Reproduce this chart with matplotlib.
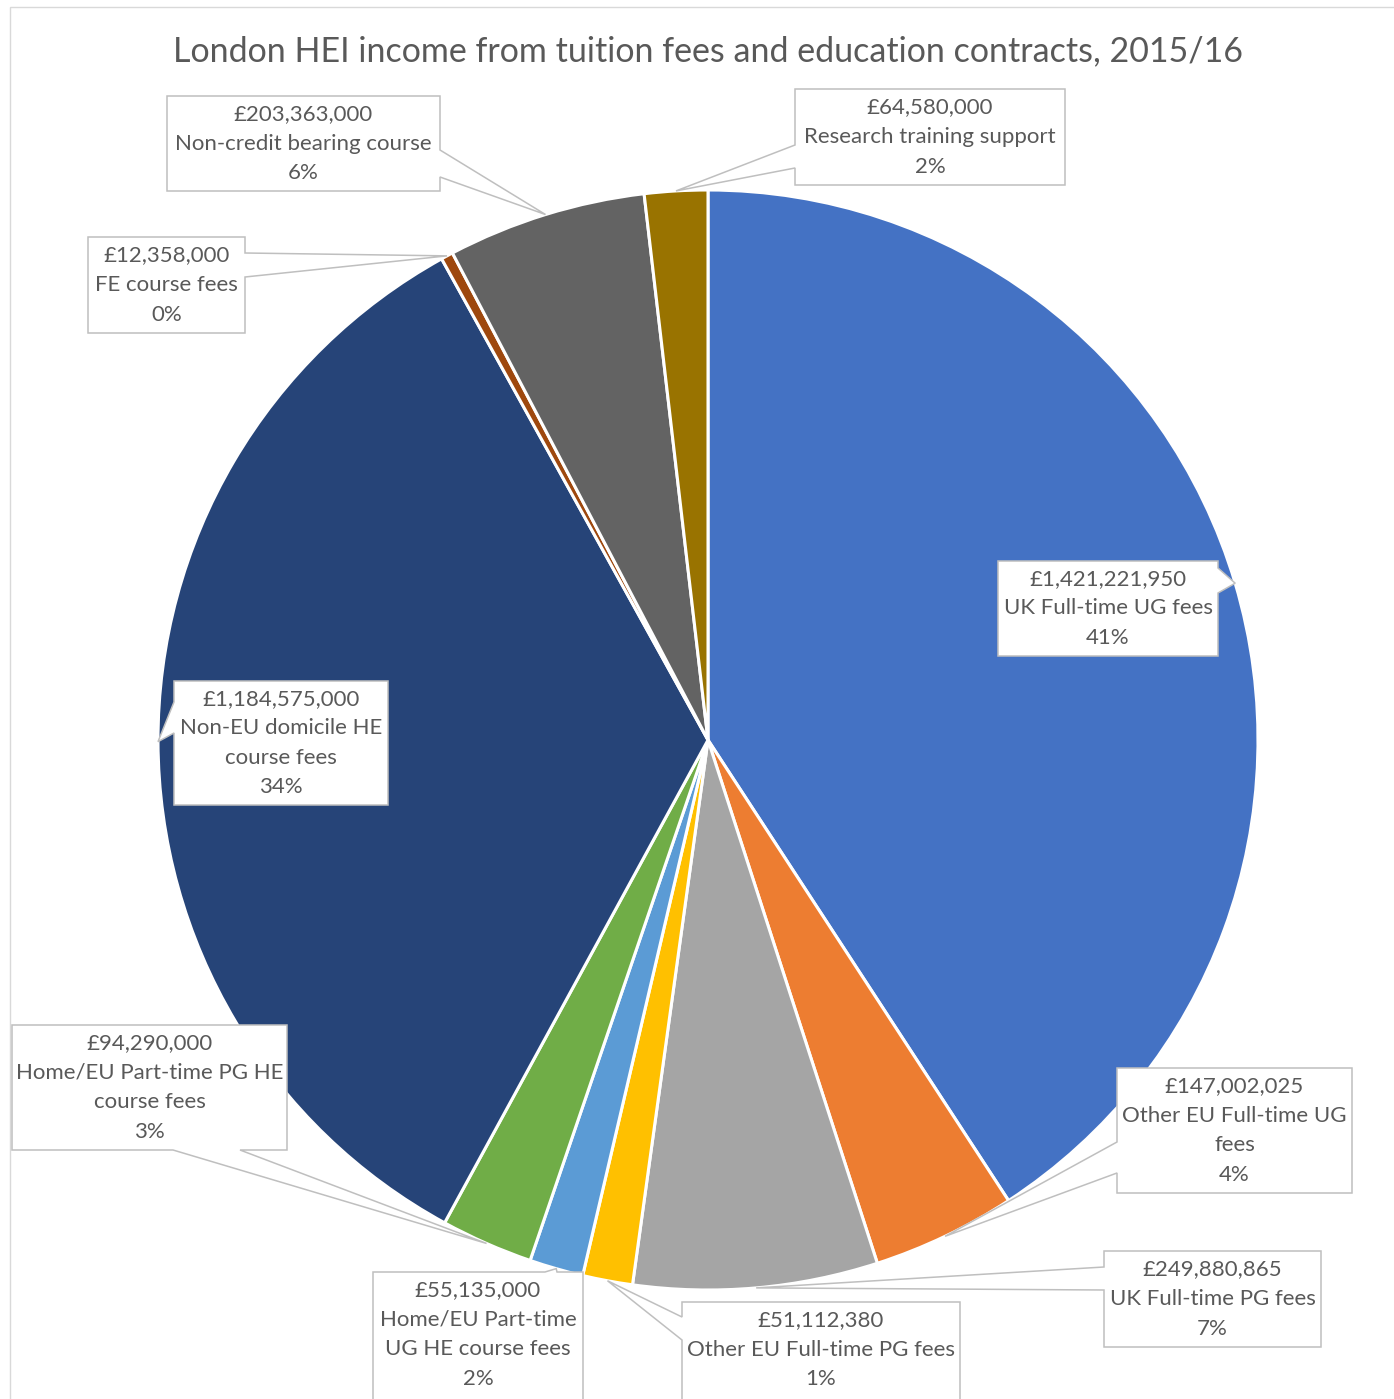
import numpy as np
import matplotlib
matplotlib.use("Agg")
import matplotlib.pyplot as plt
from matplotlib.patches import Polygon, Rectangle

plt.rcParams['font.family'] = ['Lato', 'DejaVu Sans']

W, H = 1394, 1399

title = "London HEI income from tuition fees and education contracts, 2015/16"

names = [
    "UK Full-time UG fees",
    "Other EU Full-time UG\nfees",
    "UK Full-time PG fees",
    "Other EU Full-time PG fees",
    "Home/EU Part-time\nUG HE course fees",
    "Home/EU Part-time PG HE\ncourse fees",
    "Non-EU domicile HE\ncourse fees",
    "FE course fees",
    "Non-credit bearing course",
    "Research training support",
]
values = [1421221950, 147002025, 249880865, 51112380, 55135000,
          94290000, 1184575000, 12358000, 203363000, 64580000]
colors = ["#4472C4", "#ED7D31", "#A5A5A5", "#FFC000", "#5B9BD5",
          "#70AD47", "#264478", "#9E480E", "#636363", "#997300"]

# callout boxes in pixel coords (x0, y0, x1, y1, top-down), pointer side and base
boxes = [
    (998, 561, 1218, 656, "right", 568, 593),
    (1117, 1068, 1352, 1193, "left", 1142, 1173),
    (1104, 1251, 1321, 1347, "left", 1267, 1290),
    (682, 1302, 960, 1410, "left", 1317, 1340),
    (373, 1272, 583, 1410, "top", 545, 557),
    (12, 1025, 287, 1150, "bottom", 173, 240),
    (174, 681, 388, 805, "left", 702, 733),
    (88, 237, 245, 333, "right", 253, 277),
    (167, 96, 440, 191, "right", 150, 177),
    (795, 89, 1065, 185, "left", 145, 168),
]
text_offset = [0, 0, 0, -1, -1, 0, 0, 0, 0, 0]

cx, cy, R = 708, 740, 550

fig = plt.figure(figsize=(W / 100, H / 100), dpi=100)
ax = fig.add_axes([0, 0, 1, 1])

ax.add_patch(Rectangle((10, -10), W + 20, H - 7 + 10, fill=False,
                       edgecolor="#D9D9D9", linewidth=1.0, zorder=0))

wedges, _ = ax.pie(values, colors=colors, startangle=90, counterclock=False,
                   center=(cx, H - cy), radius=R, frame=True,
                   wedgeprops=dict(edgecolor="white", linewidth=2.2))
ax.set_xlim(0, W)
ax.set_ylim(0, H)
ax.set_aspect("equal")
ax.axis("off")

total = sum(values)
for i, w in enumerate(wedges):
    mid = np.deg2rad((w.theta1 + w.theta2) / 2)
    tx = cx + R * np.cos(mid)
    ty = cy - R * np.sin(mid)
    x0, y0, x1, y1, side, b0, b1 = boxes[i]
    if side == "right":
        pts = [(x0, y0), (x1, y0), (x1, b0), (tx, ty), (x1, b1), (x1, y1), (x0, y1)]
    elif side == "left":
        pts = [(x0, y0), (x1, y0), (x1, y1), (x0, y1), (x0, b1), (tx, ty), (x0, b0)]
    elif side == "top":
        pts = [(x0, y0), (b0, y0), (tx, ty), (b1, y0), (x1, y0), (x1, y1), (x0, y1)]
    else:
        pts = [(x0, y0), (x1, y0), (x1, y1), (b1, y1), (tx, ty), (b0, y1), (x0, y1)]
    pts = [(px, H - py) for px, py in pts]
    ax.add_patch(Polygon(pts, closed=True, facecolor="white", edgecolor="#BFBFBF",
                         linewidth=1.1, zorder=5))
    pct = round(values[i] / total * 100)
    label = "£{:,}\n{}\n{}%".format(values[i], names[i], pct)
    ymid = (y0 + min(y1, H)) / 2 + text_offset[i]
    ax.text((x0 + x1) / 2, H - ymid, label, ha="center", va="center",
            fontsize=16, color="#595959", linespacing=1.6, zorder=6)

ax.text(708, H - 51, title, ha="center", va="center", fontsize=24.5, color="#595959")

fig.savefig("out.png", dpi=100)
